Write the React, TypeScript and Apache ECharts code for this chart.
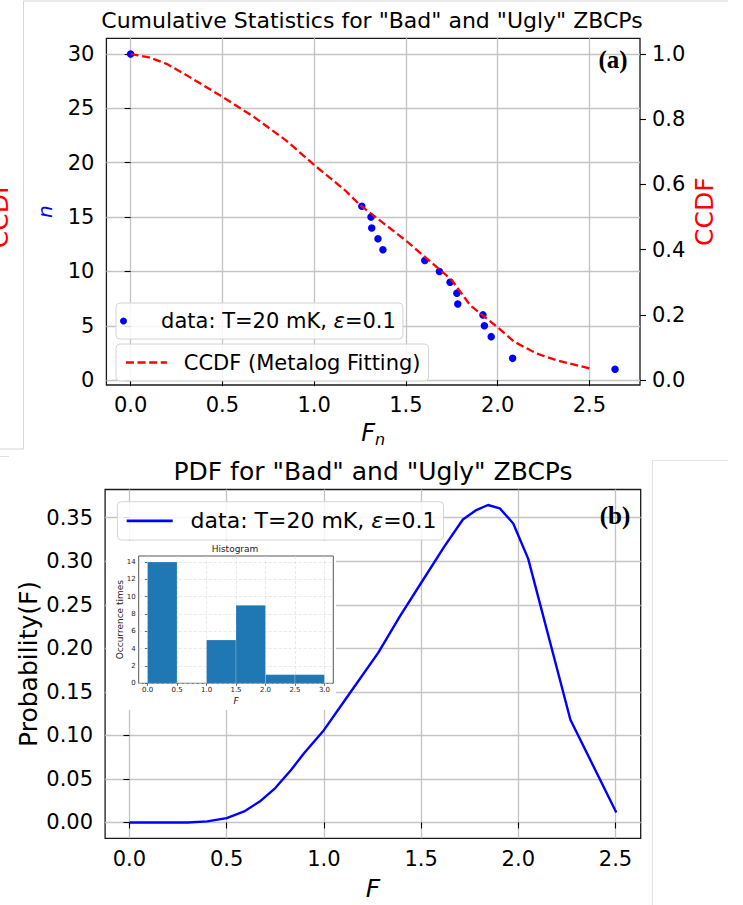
import React, { useEffect, useRef } from 'react';
import * as echarts from 'echarts';

const FONT = 'DejaVu Sans';

// ---- Panel (a): cumulative statistics ----
const scatterF = [0, 1.26, 1.31, 1.314, 1.348, 1.375, 1.603, 1.683, 1.741, 1.778, 1.783, 1.92, 1.928, 1.965, 2.082, 2.64];
const scatterN = [30, 16, 15, 14, 13, 12, 11, 10, 9, 8, 7, 6, 5, 4, 2, 1];
const ccdfF = [0, 0.1, 0.2, 0.32, 0.5, 0.67, 0.845, 1.0, 1.167, 1.25, 1.5, 1.75, 1.85, 2.0, 2.09, 2.21, 2.32, 2.5];
const ccdfV = [1.0, 0.99, 0.969, 0.93, 0.869, 0.808, 0.736, 0.66, 0.583, 0.537, 0.428, 0.307, 0.23, 0.162, 0.118, 0.082, 0.061, 0.036];
const topXTicks = [0, 0.5, 1.0, 1.5, 2.0, 2.5];
const nTicks = [0, 5, 10, 15, 20, 25, 30];
const ccdfTicks = [0, 0.2, 0.4, 0.6, 0.8, 1.0];

// ---- Panel (b): PDF ----
const pdfF = [0, 0.3, 0.4, 0.5, 0.59, 0.67, 0.75, 0.83, 0.9, 1.0, 1.135, 1.28, 1.39, 1.5, 1.62, 1.715, 1.784, 1.844, 1.905, 1.974, 2.051, 2.268, 2.504];
const pdfP = [0, 0, 0.0012, 0.005, 0.0127, 0.024, 0.0395, 0.06, 0.08, 0.106, 0.149, 0.195, 0.2365, 0.275, 0.317, 0.348, 0.3588, 0.3646, 0.3607, 0.3434, 0.3027, 0.118, 0.0115];
const botXTicks = [0, 0.5, 1.0, 1.5, 2.0, 2.5];
const probTicks = [0, 0.05, 0.1, 0.15, 0.2, 0.25, 0.3, 0.35];

// ---- Inset histogram ----
const histEdges = [0, 0.5, 1.0, 1.5, 2.0, 2.5, 3.0];
const histCounts = [14, 0, 5, 9, 1, 1];
const histXTicks = [0, 0.5, 1.0, 1.5, 2.0, 2.5, 3.0];
const histYTicks = [0, 2, 4, 6, 8, 10, 12, 14];

const GRID_LINE = { color: '#c4c4c4', width: 1.3 };

function axis(o: any) {
  return {
    type: 'value',
    gridIndex: o.grid,
    position: o.position,
    min: o.min,
    max: o.max,
    z: o.z ?? 0,
    axisLine: { show: false },
    axisTick: {
      show: true,
      customValues: o.ticks,
      length: o.tickLen ?? 6,
      lineStyle: { color: o.tickColor ?? '#000', width: o.tickWidth ?? 1.1 },
    },
    axisLabel: {
      customValues: o.ticks,
      formatter: o.fmt,
      color: o.labelColor ?? '#000',
      fontSize: o.labelSize ?? 21,
      fontFamily: FONT,
      margin: o.margin ?? 10,
      hideOverlap: false,
    },
    splitLine: { show: o.split !== false, lineStyle: o.splitStyle ?? GRID_LINE },
    name: o.name,
    nameLocation: 'middle',
    nameGap: o.nameGap,
    nameRotate: o.nameRotate,
    nameMoveOverlap: false,
    nameTextStyle: o.nameTextStyle,
  };
}

export default function App() {
  const ref = useRef<HTMLDivElement>(null);

  useEffect(() => {
    if (!ref.current) return;
    const chart = echarts.init(ref.current, null, { renderer: 'svg' });

    const legendText = (name: string) => {
      if (name === 'pts') return '{p| }data: T=20 mK, {e|ε}=0.1';
      if (name === 'ccdf') return '{q| }CCDF (Metalog Fitting)';
      return '{r| }data: T=20 mK, {e2|ε}=0.1';
    };

    const legendBox = {
      orient: 'vertical',
      selectedMode: false,
      backgroundColor: 'rgba(255,255,255,0.85)',
      borderColor: '#d4d4d4',
      borderWidth: 1,
      borderRadius: 4,
      formatter: legendText,
    };

    const option: any = {
      animation: false,
      backgroundColor: '#fff',
      title: [
        {
          text: 'Cumulative Statistics for "Bad" and "Ugly" ZBCPs',
          left: 372, top: 9.5, textAlign: 'center', padding: 0,
          textStyle: { fontSize: 22, fontWeight: 'normal', fontFamily: FONT, color: '#000' },
        },
        {
          text: 'PDF for "Bad" and "Ugly" ZBCPs',
          left: 373, top: 458.5, textAlign: 'center', padding: 0,
          textStyle: { fontSize: 25, fontWeight: 'normal', fontFamily: FONT, color: '#000' },
        },
        {
          text: 'Histogram',
          left: 235, top: 544.5, textAlign: 'center', padding: 0, z: 6,
          textStyle: { fontSize: 9, fontWeight: 'normal', fontFamily: FONT, color: '#222' },
        },
      ],
      grid: [
        { left: 106.4, top: 38.3, width: 533.6, height: 346.7, show: true, borderColor: '#1a1a1a', borderWidth: 1.3, backgroundColor: 'transparent' },
        { left: 105.1, top: 489.5, width: 535.6, height: 348.8, show: true, borderColor: '#1a1a1a', borderWidth: 1.3, backgroundColor: 'transparent' },
        { left: 138.7, top: 556, width: 194.6, height: 127.3, show: true, borderColor: '#444', borderWidth: 0.9, backgroundColor: 'transparent', z: 4 },
      ],
      xAxis: [
        axis({
          grid: 0, position: 'bottom', min: -0.132, max: 2.776, ticks: topXTicks,
          fmt: (v: number) => v.toFixed(1), margin: 9,
          name: '{f|F}{s|n}', nameGap: 36,
          nameTextStyle: {
            rich: {
              f: { fontSize: 24, fontStyle: 'italic', fontFamily: FONT, color: '#000', lineHeight: 26, verticalAlign: 'top' },
              s: { fontSize: 16, fontStyle: 'italic', fontFamily: FONT, color: '#000', lineHeight: 16, verticalAlign: 'bottom', padding: [12, 0, 0, 0] },
            },
          },
        }),
        axis({
          grid: 1, position: 'bottom', min: -0.1252, max: 2.6295, ticks: botXTicks,
          fmt: (v: number) => v.toFixed(1), margin: 10,
          name: 'F', nameGap: 38,
          nameTextStyle: { fontSize: 25, fontStyle: 'italic', fontFamily: FONT, color: '#000' },
        }),
        axis({
          grid: 2, position: 'bottom', min: -0.15, max: 3.15, ticks: histXTicks, z: 4,
          fmt: (v: number) => v.toFixed(1), margin: 3, labelSize: 7, labelColor: '#222',
          tickLen: 2.5, tickWidth: 0.8, tickColor: '#444',
          splitStyle: { color: '#dadada', width: 0.6, type: [3, 2] },
          name: 'F', nameGap: 13,
          nameTextStyle: { fontSize: 9, fontStyle: 'italic', fontFamily: FONT, color: '#222' },
        }),
      ],
      yAxis: [
        axis({
          grid: 0, position: 'left', min: -0.45, max: 31.45, ticks: nTicks,
          fmt: (v: number) => String(v), margin: 12,
          name: 'n', nameGap: 51, nameRotate: 90,
          nameTextStyle: { fontSize: 20, fontStyle: 'italic', fontFamily: FONT, color: '#0000ff' },
        }),
        axis({
          grid: 0, position: 'right', min: -0.015, max: 1.0483, ticks: ccdfTicks, split: false,
          fmt: (v: number) => v.toFixed(1), margin: 12,
          name: 'CCDF', nameGap: 52, nameRotate: 90,
          nameTextStyle: { fontSize: 25, fontFamily: FONT, color: '#ff0000' },
        }),
        axis({
          grid: 1, position: 'left', min: -0.0182, max: 0.3824, ticks: probTicks,
          fmt: (v: number) => v.toFixed(2), margin: 12,
          name: 'Probability(F)', nameGap: 64, nameRotate: 90,
          nameTextStyle: { fontSize: 25, fontFamily: FONT, color: '#000' },
        }),
        axis({
          grid: 2, position: 'left', min: 0, max: 14.7, ticks: histYTicks, z: 4,
          fmt: (v: number) => String(v), margin: 3, labelSize: 7, labelColor: '#222',
          tickLen: 2.5, tickWidth: 0.8, tickColor: '#444',
          splitStyle: { color: '#dadada', width: 0.6, type: [3, 2] },
          name: 'Occurrence times', nameGap: 14, nameRotate: 90,
          nameTextStyle: { fontSize: 9, fontFamily: FONT, color: '#222' },
        }),
      ],
      legend: [
        {
          ...legendBox,
          data: ['pts'], left: 116, top: 303, padding: [7, 7, 7, 4],
          itemWidth: 50, itemHeight: 7, itemGap: 0,
          itemStyle: { opacity: 1 },
          textStyle: {
            fontSize: 21, fontFamily: FONT, color: '#000', lineHeight: 22,
            rich: {
              p: { width: 7.6, fontSize: 21, fontFamily: FONT },
              e: { fontSize: 21, fontFamily: FONT, fontStyle: 'italic', color: '#000' },
            },
          },
        },
        {
          ...legendBox,
          data: ['ccdf'], left: 116, top: 344, padding: [7.5, 8, 7.5, 8.8],
          itemWidth: 41, itemHeight: 1, itemGap: 0,
          lineStyle: { width: 2.3 },
          textStyle: {
            fontSize: 21, fontFamily: FONT, color: '#000', lineHeight: 22,
            rich: { q: { width: 11.8, fontSize: 21, fontFamily: FONT } },
          },
        },
        {
          ...legendBox,
          data: ['pdf'], left: 117.4, top: 501.7, padding: [8, 7, 8, 8],
          itemWidth: 46, itemHeight: 1, itemGap: 0,
          lineStyle: { width: 2.6 },
          textStyle: {
            fontSize: 22, fontFamily: FONT, color: '#000', lineHeight: 22.3,
            rich: {
              r: { width: 12.9, fontSize: 22, fontFamily: FONT },
              e2: { fontSize: 22, fontFamily: FONT, fontStyle: 'italic', color: '#000' },
            },
          },
        },
      ],
      series: [
        {
          type: 'scatter', name: 'pts', xAxisIndex: 0, yAxisIndex: 0, z: 2,
          data: scatterF.map((f, i) => [f, scatterN[i]]),
          symbol: 'circle', symbolSize: 7.5,
          itemStyle: { color: '#0000ff', opacity: 1 },
        },
        {
          type: 'line', name: 'ccdf', xAxisIndex: 0, yAxisIndex: 1, z: 3,
          data: ccdfF.map((f, i) => [f, ccdfV[i]]),
          symbol: 'none', smooth: false,
          itemStyle: { color: '#ff0000' },
          lineStyle: { color: '#ff0000', width: 2.3, type: [8, 3.6] },
        },
        {
          type: 'line', name: 'pdf', xAxisIndex: 1, yAxisIndex: 2, z: 3,
          data: pdfF.map((f, i) => [f, pdfP[i]]),
          symbol: 'none', smooth: false,
          itemStyle: { color: '#0000ff' },
          lineStyle: { color: '#0000ff', width: 2.4 },
        },
        {
          type: 'custom', name: 'hist', xAxisIndex: 2, yAxisIndex: 3, z: 5,
          data: histCounts.map((c, i) => [histEdges[i], histEdges[i + 1], c]),
          encode: { x: [0, 1], y: 2 },
          renderItem: (params: any, api: any) => {
            const h = api.value(2);
            if (!h) return null;
            const p0 = api.coord([api.value(0), 0]);
            const p1 = api.coord([api.value(1), h]);
            return {
              type: 'rect',
              shape: { x: p0[0], y: p1[1], width: p1[0] - p0[0], height: p0[1] - p1[1] },
              style: { fill: '#1f77b4', stroke: 'rgba(255,255,255,0.35)', lineWidth: 0.6 },
            };
          },
        },
      ],
      graphic: [
        // white background of the inset axes
        { type: 'rect', z: 1, silent: true, shape: { x: 106.5, y: 541, width: 229.5, height: 169 }, style: { fill: '#fff' } },
        // panel labels
        { type: 'text', z: 10, x: 613, y: 59, style: { text: '(a)', fontFamily: 'Liberation Serif', fontWeight: 'bold', fontSize: 25, fill: '#000', align: 'center', verticalAlign: 'middle' } },
        { type: 'text', z: 10, x: 615, y: 515, style: { text: '(b)', fontFamily: 'Liberation Serif', fontWeight: 'bold', fontSize: 25, fill: '#000', align: 'center', verticalAlign: 'middle' } },
        // label of the neighbouring figure, cut by the page edge as in the reference
        { type: 'text', z: 10, x: -1, y: 214, rotation: Math.PI / 2, style: { text: 'CCDF', fontFamily: FONT, fontSize: 25, fill: '#ff0000', align: 'center', verticalAlign: 'middle' } },
        // page frame fragments
        { type: 'polyline', z: 10, silent: true, shape: { points: [[0, 449], [23.5, 449], [23.5, 1], [728, 1]] }, style: { stroke: '#d6d6d6', lineWidth: 1, fill: 'none' } },
        { type: 'line', z: 10, silent: true, shape: { x1: 0, y1: 456.5, x2: 9, y2: 456.5 }, style: { stroke: '#dedede', lineWidth: 1 } },
        { type: 'polyline', z: 10, silent: true, shape: { points: [[728, 460.5], [652.5, 460.5], [652.5, 905]] }, style: { stroke: '#e4e4e4', lineWidth: 1, fill: 'none' } },
      ],
    };

    chart.setOption(option);
    return () => chart.dispose();
  }, []);

  return <div ref={ref} style={{ position: 'absolute', left: 0, top: 0, width: 743, height: 905 }} />;
}
